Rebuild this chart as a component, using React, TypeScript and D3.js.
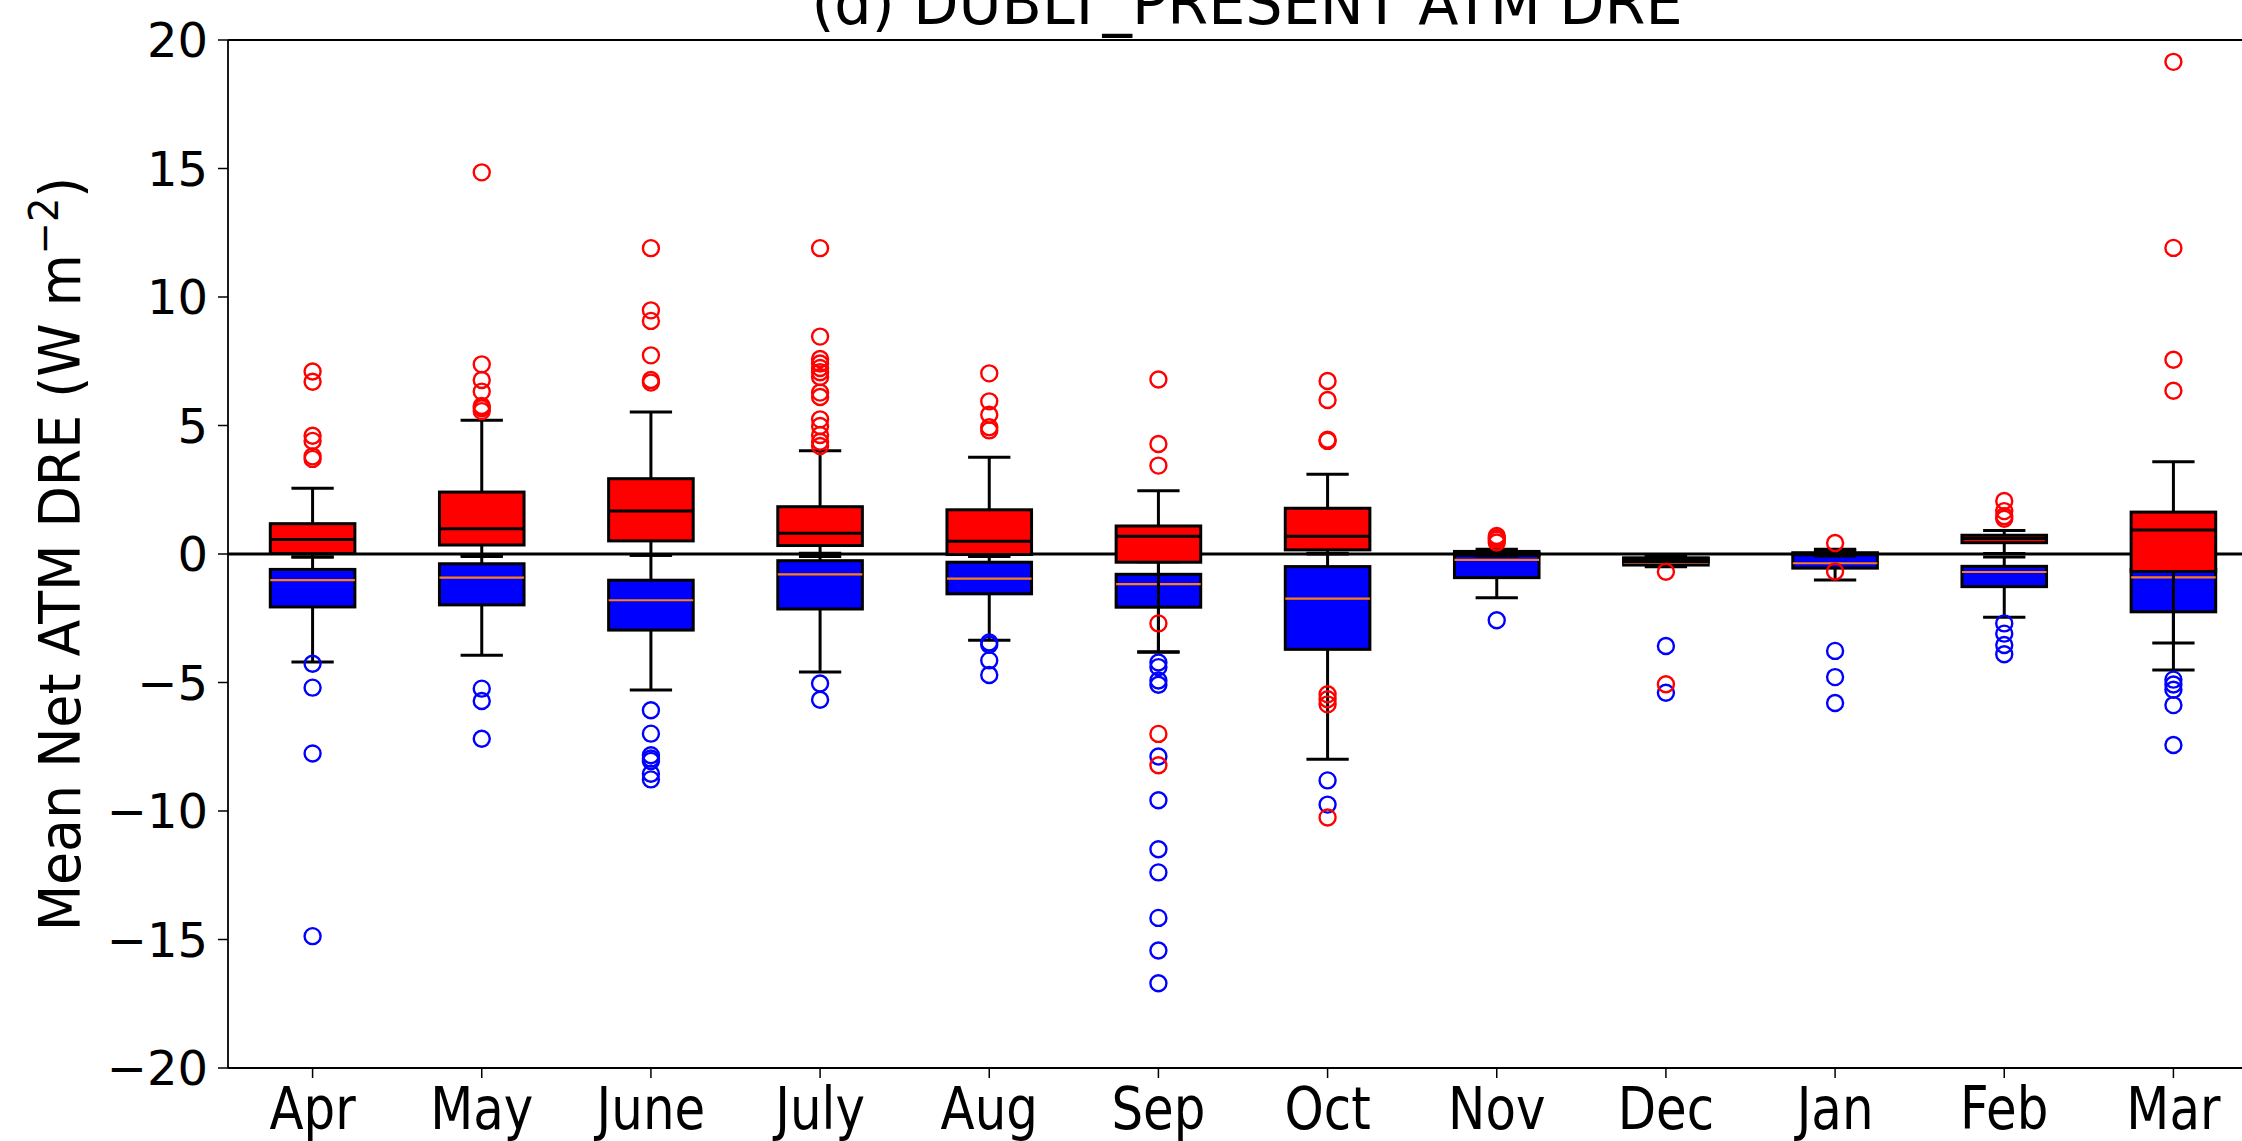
import React from "react";
import * as d3 from "d3";

const months = ["Apr", "May", "June", "July", "Aug", "Sep", "Oct", "Nov", "Dec", "Jan", "Feb", "Mar"];

// Red series (box stats per month)
const redLo = [-0.12, -0.1, -0.05, 0.03, -0.05, -3.82, 0.03, -0.08, -0.45, -0.08, 0.02, -3.46];
const redQ1 = [0.02, 0.35, 0.51, 0.33, -0.02, -0.32, 0.16, -0.05, -0.3, -0.03, 0.44, -0.68];
const redMed = [0.56, 0.98, 1.67, 0.81, 0.5, 0.69, 0.69, 0.0, -0.22, 0.0, 0.6, 0.93];
const redQ3 = [1.18, 2.41, 2.93, 1.84, 1.72, 1.09, 1.78, 0.1, -0.15, 0.05, 0.73, 1.63];
const redHi = [2.56, 5.2, 5.53, 4.02, 3.76, 2.46, 3.1, 0.18, -0.08, 0.12, 0.91, 3.59];
const redOut = [
  [7.1, 6.7, 4.6, 4.4, 3.8, 3.7],
  [14.85, 7.38, 6.77, 6.32, 5.76, 5.67, 5.56],
  [11.9, 9.48, 9.07, 7.73, 6.77, 6.67],
  [11.9, 8.46, 7.59, 7.41, 7.24, 7.07, 6.89, 6.28, 6.11, 5.24, 4.98, 4.63, 4.37, 4.2],
  [7.03, 5.94, 5.42, 4.93, 4.81],
  [6.79, 4.28, 3.44, -2.7, -7.0, -8.22],
  [6.73, 5.99, 4.45, 4.4, -5.46, -5.65, -5.85, -10.25],
  [0.7, 0.62, 0.55, 0.45],
  [-0.69, -5.07],
  [0.43, -0.68],
  [2.06, 1.67, 1.47, 1.37],
  [19.15, 11.91, 7.56, 6.35],
];

// Blue series (box stats per month)
const blueLo = [-4.2, -3.94, -5.29, -4.59, -3.36, -3.8, -7.99, -1.7, -0.5, -1.01, -2.46, -4.51];
const blueQ1 = [-2.06, -1.98, -2.96, -2.14, -1.55, -2.07, -3.71, -0.92, -0.43, -0.55, -1.27, -2.25];
const blueMed = [-1.02, -0.92, -1.8, -0.79, -0.96, -1.17, -1.74, -0.23, -0.34, -0.36, -0.7, -0.91];
const blueQ3 = [-0.6, -0.38, -1.02, -0.26, -0.32, -0.79, -0.49, 0.03, -0.17, 0.0, -0.48, -0.6];
const blueHi = [-0.12, -0.05, -0.05, -0.1, -0.1, -0.3, 0.0, 0.1, -0.08, 0.18, -0.12, 0.0];
const blueOut = [
  [-4.27, -5.2, -7.76, -14.87],
  [-5.24, -5.72, -7.19],
  [-6.08, -6.99, -7.83, -7.96, -8.05, -8.55, -8.77],
  [-5.04, -5.67],
  [-3.44, -3.53, -4.14, -4.71],
  [-4.22, -4.4, -4.92, -5.09, -7.88, -9.58, -11.49, -12.39, -14.16, -15.43, -16.7],
  [-8.81, -9.75],
  [-2.58],
  [-3.58, -5.4],
  [-3.77, -4.79, -5.8],
  [-2.7, -3.1, -3.54, -3.9],
  [-4.89, -5.08, -5.28, -5.88, -7.43],
];

const yTicks = [-20, -15, -10, -5, 0, 5, 10, 15, 20];

const W = 2242;
const H = 1141;

type Series = {
  lo: number[];
  q1: number[];
  med: number[];
  q3: number[];
  hi: number[];
  out: number[][];
  fill: string;
  medColor: string;
  medWidth: number;
};

export default function App() {
  const x = d3.scaleLinear().domain([0.5, 12.5]).range([228, 2258]);
  const y = d3.scaleLinear().domain([-20, 20]).range([1068, 40]);
  const bw = x(1.25) - x(1);
  const cw = x(1.125) - x(1);
  const fmt = (v: number) => (v < 0 ? "\u2212" + Math.abs(v) : String(v));

  const red: Series = { lo: redLo, q1: redQ1, med: redMed, q3: redQ3, hi: redHi, out: redOut, fill: "#ff0000", medColor: "#000000", medWidth: 3 };
  const blue: Series = { lo: blueLo, q1: blueQ1, med: blueMed, q3: blueQ3, hi: blueHi, out: blueOut, fill: "#0000ff", medColor: "#ff7f0e", medWidth: 2.2 };

  const drawSeries = (s: Series, key: string, outColor: string) =>
    months.map((m, i) => {
      const cx = x(i + 1);
      return (
        <g key={key + m}>
          <line x1={cx} x2={cx} y1={y(s.q3[i])} y2={y(s.hi[i])} stroke="#000" strokeWidth={3} />
          <line x1={cx} x2={cx} y1={y(s.q1[i])} y2={y(s.lo[i])} stroke="#000" strokeWidth={3} />
          <line x1={cx - cw} x2={cx + cw} y1={y(s.hi[i])} y2={y(s.hi[i])} stroke="#000" strokeWidth={3} />
          <line x1={cx - cw} x2={cx + cw} y1={y(s.lo[i])} y2={y(s.lo[i])} stroke="#000" strokeWidth={3} />
          <rect x={cx - bw} width={2 * bw} y={y(s.q3[i])} height={Math.max(0, y(s.q1[i]) - y(s.q3[i]))} fill={s.fill} stroke="#000" strokeWidth={3} />
          <line x1={cx - bw} x2={cx + bw} y1={y(s.med[i])} y2={y(s.med[i])} stroke={s.medColor} strokeWidth={s.medWidth} />
          {s.out[i].map((v, j) => (
            <circle key={j} cx={cx} cy={y(v)} r={8} fill="none" stroke={outColor} strokeWidth={2.4} />
          ))}
        </g>
      );
    });

  return (
    <svg width={W} height={H} style={{ position: "absolute", left: 0, top: 0, background: "#fff" }} fontFamily="DejaVu Sans">
      <rect x={0} y={0} width={W} height={H} fill="#fff" />
      {/* zero line */}
      <line x1={x(0.5)} x2={x(12.5)} y1={y(0)} y2={y(0)} stroke="#000" strokeWidth={3} />
      {drawSeries(blue, "b", "#0000ff")}
      {drawSeries(red, "r", "#ff0000")}
      {/* spines */}
      <line x1={x(0.5)} x2={x(0.5)} y1={y(20)} y2={y(-20)} stroke="#000" strokeWidth={1.8} />
      <line x1={x(0.5)} x2={x(12.5)} y1={y(20)} y2={y(20)} stroke="#000" strokeWidth={1.8} />
      <line x1={x(0.5)} x2={x(12.5)} y1={y(-20)} y2={y(-20)} stroke="#000" strokeWidth={1.8} />
      {/* y ticks */}
      {yTicks.map((t) => (
        <g key={"yt" + t}>
          <line x1={x(0.5) - 10} x2={x(0.5)} y1={y(t)} y2={y(t)} stroke="#000" strokeWidth={1.5} />
          <text x={x(0.5) - 20} y={y(t)} dy="0.36em" textAnchor="end" fontSize={48}>
            {fmt(t)}
          </text>
        </g>
      ))}
      {/* x ticks */}
      {months.map((m, i) => (
        <g key={"xt" + m}>
          <line x1={x(i + 1)} x2={x(i + 1)} y1={y(-20)} y2={y(-20) + 10} stroke="#000" strokeWidth={1.5} />
          <text transform={`translate(${x(i + 1)}, 1129) scale(0.86, 1)`} textAnchor="middle" fontSize={58}>
            {m}
          </text>
        </g>
      ))}
      {/* y label */}
      <text transform={`translate(80, ${y(0)}) rotate(-90) scale(0.96, 1)`} textAnchor="middle" fontSize={56}>
        Mean Net ATM DRE (W m
        <tspan baselineShift="super" fontSize={40}>{"\u22122"}</tspan>)
      </text>
      {/* title */}
      <text transform="translate(1247, 24) scale(0.98, 1)" textAnchor="middle" fontSize={60}>
        (d) DUBLT_PRESENT ATM DRE
      </text>
    </svg>
  );
}
